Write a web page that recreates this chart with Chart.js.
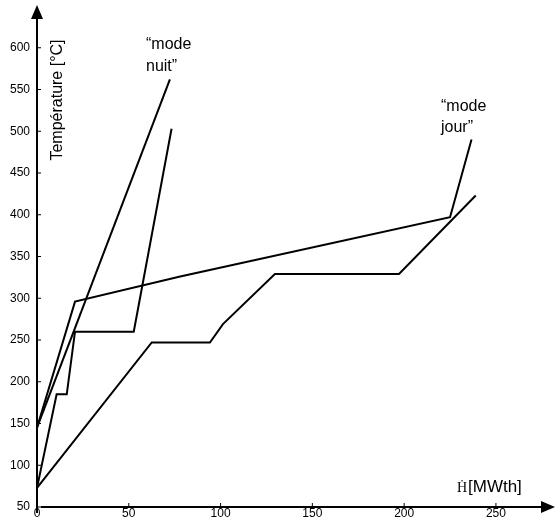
<!DOCTYPE html>
<html>
<head>
<meta charset="utf-8">
<script src="https://cdn.jsdelivr.net/npm/chart.js@4"></script>
<style>
  html, body { margin: 0; padding: 0; background: #fff; }
  #wrap { width: 555px; height: 517px; }
</style>
</head>
<body>
<div id="wrap"><canvas id="graphe"></canvas></div>
<script>
// courbes "mode jour"
const jourSelH = [0, 20.7, 78, 225, 236.7];
const jourSelT = [145, 296, 326, 397, 490];
const jourEauH = [0, 62.5, 94.2, 101.3, 129.6, 197.2, 239];
const jourEauT = [73, 247, 247, 269, 329, 329, 423];
// courbes "mode nuit"
const nuitSelH = [0, 72.4];
const nuitSelT = [145, 562];
const nuitEauH = [0, 10.7, 16.2, 20.7, 52.7, 73.3];
const nuitEauT = [73, 185, 185, 260, 260, 503];

const ticksX = [0, 50, 100, 150, 200, 250];
const ticksY = [50, 100, 150, 200, 250, 300, 350, 400, 450, 500, 550, 600];

const pts = (h, t) => h.map((v, i) => ({ x: v, y: t[i] }));

const ligne = (h, t) => ({
  data: pts(h, t),
  borderColor: '#000',
  borderWidth: 2,
  pointRadius: 0,
  tension: 0,
  fill: false
});

// axes avec fleches + textes
const axesPlugin = {
  id: 'axes',
  afterDraw(chart) {
    const { ctx, chartArea: a, scales: { x, y } } = chart;
    ctx.save();
    ctx.strokeStyle = '#000';
    ctx.fillStyle = '#000';
    ctx.lineWidth = 2;
    ctx.beginPath();
    ctx.moveTo(a.left, 513);
    ctx.lineTo(a.left, 16);
    ctx.stroke();
    ctx.beginPath();
    ctx.moveTo(a.left, 5);
    ctx.lineTo(a.left - 6, 19);
    ctx.lineTo(a.left + 6, 19);
    ctx.closePath();
    ctx.fill();

    ctx.beginPath();
    ctx.moveTo(a.left + 4, a.bottom);
    ctx.lineTo(544, a.bottom);
    ctx.stroke();
    ctx.beginPath();
    ctx.moveTo(555, a.bottom);
    ctx.lineTo(541, a.bottom - 6);
    ctx.lineTo(541, a.bottom + 6);
    ctx.closePath();
    ctx.fill();

    ctx.lineWidth = 1;
    ticksY.forEach(v => {
      const p = y.getPixelForValue(v);
      ctx.beginPath();
      ctx.moveTo(a.left, p);
      ctx.lineTo(a.left + 4, p);
      ctx.stroke();
    });
    ticksX.forEach(v => {
      const p = x.getPixelForValue(v);
      ctx.beginPath();
      ctx.moveTo(p, a.bottom);
      ctx.lineTo(p, a.bottom - 4);
      ctx.stroke();
    });

    ctx.textBaseline = 'middle';
    ctx.font = '16px "Liberation Sans", Arial, sans-serif';
    ctx.fillText('\u201Cmode', 146, 45);
    ctx.fillText('nuit\u201D', 146, 67);
    ctx.fillText('\u201Cmode', 441, 107);
    ctx.fillText('jour\u201D', 441, 128);

    ctx.font = '17px "Liberation Sans", Arial, sans-serif';
    ctx.fillText('[MWth]', 468, 487);
    ctx.font = '14px "Liberation Serif", serif';
    ctx.fillText('\u1E22', 457, 488);

    ctx.translate(58, 100);
    ctx.rotate(-Math.PI / 2);
    ctx.textAlign = 'center';
    ctx.font = '16px "Liberation Sans", Arial, sans-serif';
    ctx.fillText('Température [°C]', 0, 0);
    ctx.restore();
  }
};

new Chart(document.getElementById('graphe'), {
  type: 'line',
  data: {
    datasets: [
      ligne(jourSelH, jourSelT),
      ligne(jourEauH, jourEauT),
      ligne(nuitSelH, nuitSelT),
      ligne(nuitEauH, nuitEauT)
    ]
  },
  options: {
    responsive: true,
    maintainAspectRatio: false,
    animation: false,
    devicePixelRatio: 1,
    layout: { padding: { top: 6, right: 4, left: 0, bottom: 0 } },
    plugins: { legend: { display: false }, tooltip: { enabled: false } },
    scales: {
      x: {
        type: 'linear',
        min: 0,
        max: 280,
        grid: { display: false, drawTicks: false },
        border: { display: false },
        afterBuildTicks: s => { s.ticks = ticksX.map(v => ({ value: v })); },
        afterFit: s => { s.height = 10; s.paddingLeft = 0; s.paddingRight = 0; },
        ticks: {
          color: '#000',
          padding: -1,
          maxRotation: 0,
          autoSkip: false,
          font: { family: '"Liberation Sans", Arial, sans-serif', size: 12 }
        }
      },
      y: {
        type: 'linear',
        min: 50,
        max: 650,
        grid: { display: false, drawTicks: false },
        border: { display: false },
        afterBuildTicks: s => { s.ticks = ticksY.map(v => ({ value: v })); },
        afterFit: s => { s.width = 37; s.paddingTop = 0; s.paddingBottom = 0; },
        ticks: {
          color: '#000',
          padding: 7,
          autoSkip: false,
          font: { family: '"Liberation Sans", Arial, sans-serif', size: 12 }
        }
      }
    }
  },
  plugins: [axesPlugin]
});
</script>
</body>
</html>
